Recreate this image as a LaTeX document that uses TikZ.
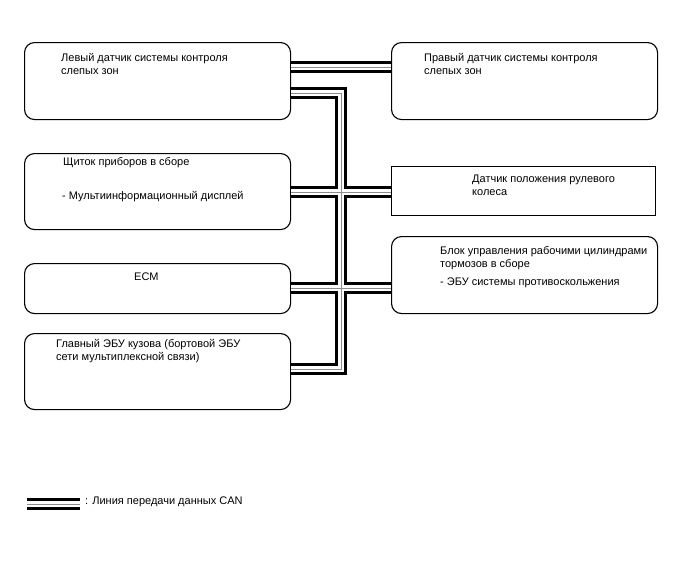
\documentclass[tikz,border=0pt]{standalone}
\usepackage{fontspec}
\setmainfont{Liberation Sans}
\begin{document}
\begin{tikzpicture}[x=1pt,y=-1pt,
  rbox/.style={draw, line width=1.1pt, rounded corners=10pt, anchor=north west, inner sep=0pt},
  sbox/.style={draw, line width=1.1pt, anchor=north west, inner sep=0pt},
  txt/.style={anchor=base west, inner sep=0pt, font=\fontsize{11}{13}\selectfont},
  busA/.style={draw=black, line width=11.5pt, line join=miter},
  busB/.style={draw=white, line width=6pt, line join=miter},
  busC/.style={draw=black!45, line width=0.9pt, line join=miter}]
\useasboundingbox (0,0) rectangle (688,560);
% boxes
\node[rbox, minimum width=266pt, minimum height=77pt] (lb) at (24,42) {};
\node[rbox, minimum width=266pt, minimum height=77pt] (rb) at (391,42) {};
\node[rbox, minimum width=266pt, minimum height=76pt] (ip) at (24,153) {};
\node[sbox, minimum width=264pt, minimum height=49pt] (ss) at (391,166) {};
\node[rbox, minimum width=266pt, minimum height=50pt] (ecm) at (24,263) {};
\node[rbox, minimum width=266pt, minimum height=77pt] (bk) at (391,236) {};
\node[rbox, minimum width=266pt, minimum height=76pt] (mb) at (24,333) {};
% texts
\node[txt] (lbt1) at (61,61) {Левый датчик системы контроля};
\node[txt] (lbt2) at (61,74) {слепых зон};
\node[txt] (rbt1) at (424,61) {Правый датчик системы контроля};
\node[txt] (rbt2) at (424,74) {слепых зон};
\node[txt] (ipt1) at (63,165) {Щиток приборов в сборе};
\node[txt] (ipt2) at (62,199) {- Мультиинформационный дисплей};
\node[txt] (sst1) at (472,182) {Датчик положения рулевого};
\node[txt] (sst2) at (472,195) {колеса};
\node[txt] (ecmt) at (134,280) {ECM};
\node[txt] (bkt1) at (440,254) {Блок управления рабочими цилиндрами};
\node[txt] (bkt2) at (440,267) {тормозов в сборе};
\node[txt] (bkt3) at (440,285) {- ЭБУ системы противоскольжения};
\node[txt] (mbt1) at (56,347) {Главный ЭБУ кузова (бортовой ЭБУ};
\node[txt] (mbt2) at (56,360) {сети мультиплексной связи)};
% bus coordinates
\coordinate (y1) at (0,67);
\coordinate (j1) at (341,93);
\coordinate (j2) at (341,369);
\coordinate (y3) at (0,192);
\coordinate (y4) at (0,288);
\coordinate (l1) at (27,504);
\coordinate (l2) at (80,504);
\foreach \s in {busA,busB,busC}{
  \draw[\s] (lb.east |- y1) -- (rb.west |- y1);
  \draw[\s] (lb.east |- j1) -- (j1) -- (j2) -- (mb.east |- j2);
  \draw[\s] (ip.east |- y3) -- (ss.west |- y3);
  \draw[\s] (ecm.east |- y4) -- (bk.west |- y4);
  \draw[\s] (l1) -- (l2);
}
\node[txt] (legt) at (85,504) {: Линия передачи данных CAN};
\end{tikzpicture}
\end{document}
